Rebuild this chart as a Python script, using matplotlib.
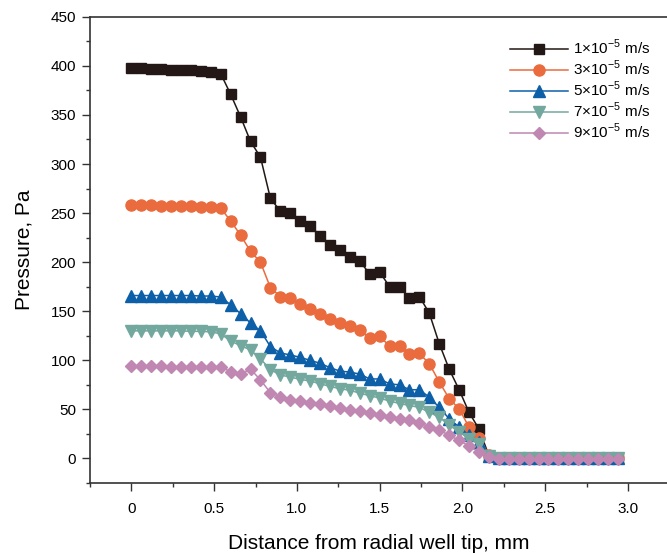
import numpy as np
from matplotlib import pyplot as plt
from matplotlib.ticker import MultipleLocator, FixedLocator

plt.rcParams["font.family"] = ["Liberation Sans", "DejaVu Sans"]
plt.rcParams["mathtext.fontset"] = "custom"
plt.rcParams["mathtext.rm"] = "Liberation Sans"

# distance, mm (50 points, 0.06 mm apart)
dist = [i * 0.06 for i in range(50)]

tail = [0] * 13

p1 = [398, 397.5, 397, 396.5, 396, 396, 395.5, 395, 394, 392,
      371, 348, 323, 307, 265, 252, 250, 242, 237, 227,
      218, 212, 205, 201, 188, 190, 175, 175, 163, 165,
      148, 117, 91, 70, 47, 30, 3] + tail

p3 = [258, 258, 258, 257.5, 257.5, 257, 257, 256.5, 256, 255,
      242, 227.5, 211, 200, 174, 165, 163, 157, 152, 147.5,
      142, 138, 134.5, 130.5, 123, 124.5, 114.5, 114.5, 106, 107,
      96.5, 78, 61, 50.5, 32, 21, 4] + tail

p5 = [166, 166, 166, 166, 166, 166, 166, 165.5, 165.5, 164.5,
      156.5, 147.5, 138, 130, 114, 107.5, 105.5, 103, 100, 97,
      92.5, 89, 88, 86, 81, 81, 76, 75, 70, 70,
      62.5, 52, 40.5, 32, 23.5, 16.5, 3] + tail

p7 = [130, 130, 130, 130, 130, 130, 129.5, 129.5, 129, 127,
      119.5, 115, 110.5, 101.5, 90.5, 85, 83, 80.5, 79, 76,
      73.5, 71, 69.5, 66.5, 64, 61.5, 58.5, 56, 54, 52,
      47, 42, 34, 27, 20, 15, 2] + tail

p9 = [94, 94, 94, 94, 93.5, 93.5, 93.5, 93, 93, 93,
      88.5, 86, 91, 80, 67, 63, 60, 58.5, 56.5, 55,
      53, 51.5, 49.5, 48, 46.5, 44.5, 42.5, 40.5, 39, 36.5,
      32, 29, 23.5, 18.5, 12.5, 6.5, 1.5] + [-0.5] * 13

labels = ["1×10$^{-5}$ m/s", "3×10$^{-5}$ m/s", "5×10$^{-5}$ m/s",
          "7×10$^{-5}$ m/s", "9×10$^{-5}$ m/s"]

fig = plt.figure(figsize=(6.67, 5.53), dpi=100)
ax = fig.add_axes([0.1349, 0.1266, 0.881, 0.843])

ax.plot(dist, p1, color="#231815", marker="s", markersize=7, linewidth=1.1, label=labels[0])
ax.plot(dist, p3, color="#EA6B3D", marker="o", markersize=8, linewidth=1.1, label=labels[1])
ax.plot(dist, p5, color="#0D5FA8", marker="^", markersize=8.5, linewidth=1.1, label=labels[2])
ax.plot(dist, p7, color="#72A89E", marker="v", markersize=8.5, linewidth=1.1, label=labels[3])
ax.plot(dist, p9, color="#BF87B1", marker="D", markersize=6.5, linewidth=1.1, label=labels[4])

ax.set_xlim(-0.25, 3.3)
ax.set_ylim(-25, 450)

ax.xaxis.set_major_locator(FixedLocator([0, 0.5, 1.0, 1.5, 2.0, 2.5, 3.0]))
ax.set_xticklabels(["0", "0.5", "1.0", "1.5", "2.0", "2.5", "3.0"])
ax.xaxis.set_minor_locator(MultipleLocator(0.25))
ax.yaxis.set_major_locator(MultipleLocator(50))
ax.yaxis.set_minor_locator(MultipleLocator(25))

ax.tick_params(which="both", direction="out", labelsize=11, color="#333333", width=1)
ax.tick_params(which="major", length=6)
ax.tick_params(which="minor", length=3)
ax.tick_params(axis="y", pad=4)
ax.tick_params(axis="x", pad=8)

for s in ax.spines.values():
    s.set_color("#333333")
    s.set_linewidth(1.2)

ax.set_xlabel("Distance from radial well tip, mm", fontsize=15)
ax.xaxis.set_label_coords(0.492, -0.11)
ax.xaxis.label.set_va("top")
ax.set_ylabel("Pressure, Pa", fontsize=15, labelpad=12)

ax.legend(loc="upper left", bbox_to_anchor=(0.692, 0.985), frameon=False,
          fontsize=11, handlelength=3.8, numpoints=1, labelspacing=0.12,
          handletextpad=0.3)

plt.savefig("out.png", dpi=100)
